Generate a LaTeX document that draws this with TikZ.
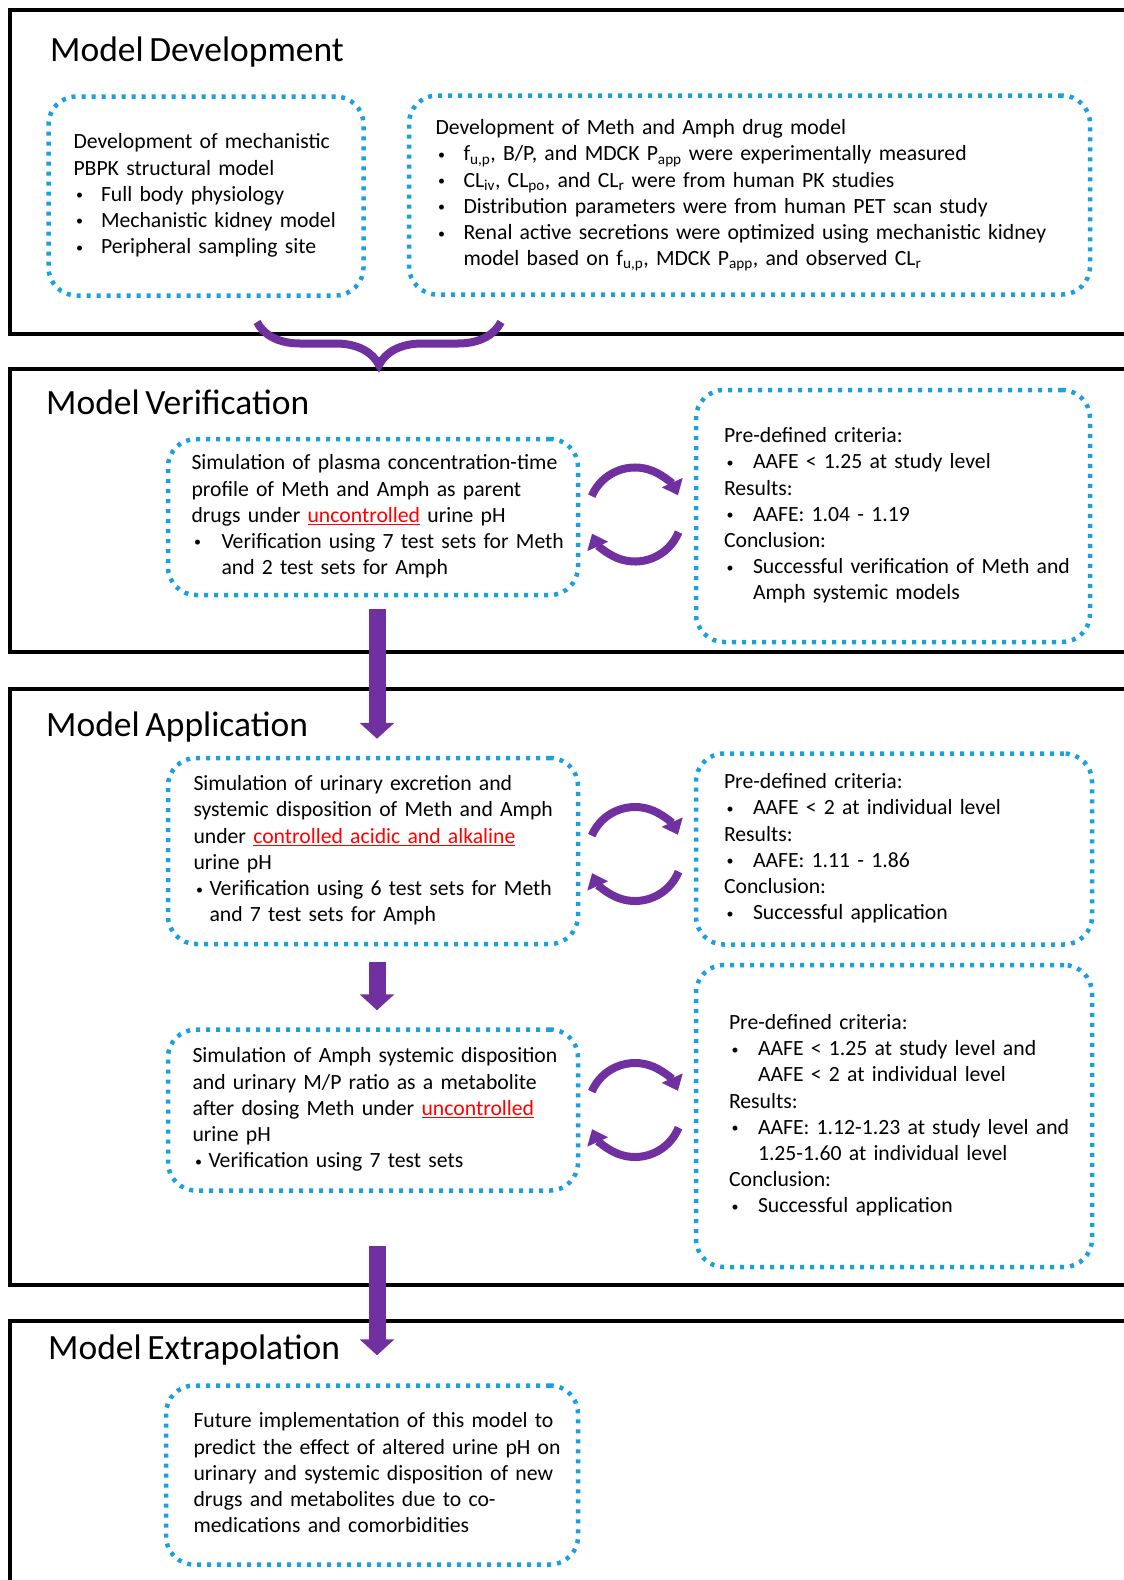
\documentclass[tikz,border=0pt]{standalone}
\usepackage{fontspec}
\setmainfont{Carlito}[WordSpace=0.7]
\usetikzlibrary{arrows.meta,calc,decorations.pathreplacing}
\definecolor{dotblue}{RGB}{27,160,222}
\definecolor{arrpurple}{RGB}{112,48,160}
\newcommand{\bodyfont}{\fontsize{21.7}{26.2}\selectfont}
\newcommand{\titlefont}{\fontsize{35.5}{42}\selectfont}
\newcommand{\bul}[1][27.5pt]{\makebox[#1][l]{\hspace{2.5pt}\raisebox{1.5pt}{\fontsize{14}{14}\selectfont\textbullet}}\ignorespaces}
\newcommand{\cont}[1][27.5pt]{\hspace*{#1}\ignorespaces}
\newcommand{\redul}[1]{{\color{red}\setbox0\hbox{#1}\rlap{\rule[-3.2pt]{\wd0}{1.6pt}}\box0}}
\begin{document}
\begin{tikzpicture}[x=1pt,y=1pt,
	frame/.style={line width=4pt},
	title/.style={anchor=base west,inner sep=0pt,font=\titlefont},
	dotbox/.style={draw=dotblue,line width=4.5pt,dash pattern=on 4pt off 6pt,
		rounded corners=28pt,align=left,inner xsep=25pt,inner ysep=0pt,font=\bodyfont},
	bigarrow/.style={draw=arrpurple,line width=17pt,-{Triangle[width=34pt,length=16pt]}},
	cycarrow/.style={draw=arrpurple,line width=8pt,-{Triangle[width=22pt,length=14pt]}}]
	\useasboundingbox (0,0) rectangle (1124,-1580);

	% frames
	\draw[frame] (1124,-10) -- (10,-10) -- (10,-334) -- (1124,-334);
	\draw[frame] (1124,-369) -- (10,-369) -- (10,-652) -- (1124,-652);
	\draw[frame] (1124,-689) -- (10,-689) -- (10,-1285) -- (1124,-1285);
	\draw[frame] (1124,-1321) -- (10,-1321) -- (10,-1580);

	\node[title] (tdev) at (50,-61) {Model Development};
	\node[title] (tver) at (46,-414) {Model Verification};
	\node[title] (tapp) at (46,-736) {Model Application};
	\node[title] (textra) at (48,-1359) {Model Extrapolation};

	% development
	\node[dotbox,text width=265pt,minimum height=199pt] (pbpk) at (206,-196) {\begin{tabular}{@{}l@{}}
		Development of mechanistic\\
		PBPK structural model\\
		\bul Full body physiology\\
		\bul Mechanistic kidney model\\
		\bul Peripheral sampling site
	\end{tabular}};
	\node[dotbox,text width=628pt,inner xsep=26.5pt,minimum height=199pt] (drug) at (749.5,-195) {\begin{tabular}{@{}l@{}}
		Development of Meth and Amph drug model\\
		\bul[28pt] f\textsubscript{u,p}, B/P, and MDCK P\textsubscript{app} were experimentally measured\\
		\bul[28pt] CL\textsubscript{iv}, CL\textsubscript{po}, and CL\textsubscript{r} were from human PK studies\\
		\bul[28pt] Distribution parameters were from human PET scan study\\
		\bul[28pt] Renal active secretions were optimized using mechanistic kidney\\
		\cont[28pt] model based on f\textsubscript{u,p}, MDCK P\textsubscript{app}, and observed CL\textsubscript{r}
	\end{tabular}};
	\coordinate (braceR) at (501,-322);
	\coordinate (braceL) at (257,-322);
	\draw[arrpurple,line width=8pt,decorate,decoration={brace,amplitude=43pt}] (braceR) -- (braceL);

	% verification
	\node[dotbox,text width=363pt,inner xsep=23.5pt,minimum height=156pt] (plasma) at (373,-517) {\begin{tabular}{@{}l@{}}
		Simulation of plasma concentration-time\\
		profile of Meth and Amph as parent\\
		drugs under \redul{uncontrolled} urine pH\\
		\bul[30pt] Verification using 7 test sets for Meth\\
		\cont[30pt] and 2 test sets for Amph
	\end{tabular}};
	\node[dotbox,text width=338pt,inner xsep=28pt,minimum height=252pt] (crit1) at (893,-516) {\begin{tabular}{@{}l@{}}
		Pre-defined criteria:\\
		\bul[29pt] AAFE < 1.25 at study level\\
		Results:\\
		\bul[29pt] AAFE: 1.04 - 1.19\\
		Conclusion:\\
		\bul[29pt] Successful verification of Meth and\\
		\cont[29pt] Amph systemic models
	\end{tabular}};

	% application
	\node[dotbox,text width=359pt,inner xsep=25.5pt,minimum height=186pt] (urine) at (373,-851) {\begin{tabular}{@{}l@{}}
		Simulation of urinary excretion and\\
		systemic disposition of Meth and Amph\\
		under \redul{controlled acidic and alkaline}\\
		urine pH\\
		\bul[16pt] Verification using 6 test sets for Meth\\
		\cont[16pt] and 7 test sets for Amph
	\end{tabular}};
	\node[dotbox,text width=340pt,inner xsep=28pt,minimum height=191pt] (crit2) at (894,-849) {\begin{tabular}{@{}l@{}}
		Pre-defined criteria:\\
		\bul[29pt] AAFE < 2 at individual level\\
		Results:\\
		\bul[29pt] AAFE: 1.11 - 1.86\\
		Conclusion:\\
		\bul[29pt] Successful application
	\end{tabular}};
	\node[dotbox,text width=361pt,inner xsep=24.5pt,minimum height=161pt] (metab) at (373,-1110) {\begin{tabular}{@{}l@{}}
		Simulation of Amph systemic disposition\\
		and urinary M/P ratio as a metabolite\\
		after dosing Meth under \redul{uncontrolled}\\
		urine pH\\
		\bul[16pt] Verification using 7 test sets
	\end{tabular}};
	\node[dotbox,text width=330pt,inner xsep=33pt,minimum height=302pt] (crit3) at (894,-1116) {\begin{tabular}{@{}l@{}}
		Pre-defined criteria:\\
		\bul[29pt] AAFE < 1.25 at study level and\\
		\cont[29pt] AAFE < 2 at individual level\\
		Results:\\
		\bul[29pt] AAFE: 1.12-1.23 at study level and\\
		\cont[29pt] 1.25-1.60 at individual level\\
		Conclusion:\\
		\bul[29pt] Successful application
	\end{tabular}};

	% extrapolation
	\node[dotbox,text width=357pt,inner xsep=27.5pt,minimum height=179pt] (future) at (372,-1475) {\begin{tabular}{@{}l@{}}
		Future implementation of this model to\\
		predict the effect of altered urine pH on\\
		urinary and systemic disposition of new\\
		drugs and metabolites due to co-\\
		medications and comorbidities
	\end{tabular}};

	% arrows
	\draw[bigarrow] ([xshift=4pt,yshift=-12pt]plasma.south) -- ([xshift=4pt,yshift=17pt]urine.north);
	\draw[bigarrow] ([xshift=4pt,yshift=-16pt]urine.south) -- ([xshift=4pt,yshift=17pt]metab.north);
	\draw[bigarrow] ([xshift=4pt,yshift=-53pt]metab.south) -- ([xshift=5pt,yshift=28pt]future.north);

	\foreach \lft/\rgt/\dy [count=\i] in {plasma/crit1/2,urine/crit2/-4,metab/crit3/3} {
		\coordinate (cyc\i) at ($(\lft.east)!0.5!(\rgt.west)+(-2,\dy)$);
		\draw[cycarrow] ($(cyc\i)+(157:47)$) arc[start angle=157,end angle=24,radius=47];
		\draw[cycarrow] ($(cyc\i)+(-22:47)$) arc[start angle=-22,end angle=-156,radius=47];
	}
\end{tikzpicture}
\end{document}
